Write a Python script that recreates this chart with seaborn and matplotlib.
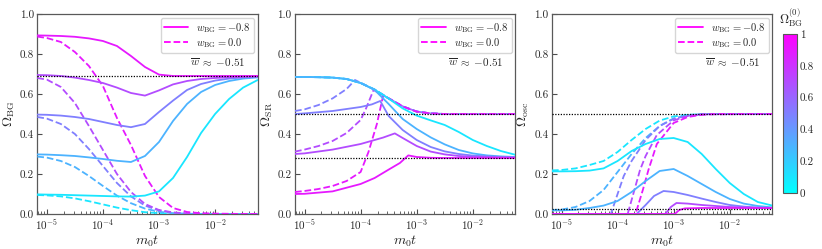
import numpy as np
import pandas as pd
import matplotlib
matplotlib.use("Agg")
import matplotlib.pyplot as plt
import seaborn as sns

# ---------------- data ----------------
OMEGA0 = [0.1, 0.3, 0.5, 0.7, 0.9]
LOGT = [-5.17, -5.0, -4.75, -4.5, -4.25, -4.0, -3.75, -3.5, -3.25, -3.0,
        -2.75, -2.5, -2.25, -2.0, -1.75, -1.5, -1.24]

# Panel 1: Omega_BG
BG_SOLID = {
    0.9: (LOGT, [0.893, 0.892, 0.890, 0.886, 0.878, 0.865, 0.84, 0.79, 0.735, 0.697, 0.69, 0.69, 0.69, 0.69, 0.69, 0.69, 0.69]),
    0.7: (LOGT, [0.695, 0.694, 0.69, 0.682, 0.67, 0.655, 0.632, 0.605, 0.592, 0.618, 0.648, 0.665, 0.675, 0.68, 0.684, 0.686, 0.688]),
    0.5: (LOGT, [0.497, 0.496, 0.492, 0.485, 0.475, 0.46, 0.445, 0.434, 0.45, 0.51, 0.567, 0.62, 0.65, 0.667, 0.677, 0.683, 0.686]),
    0.3: (LOGT, [0.298, 0.297, 0.294, 0.29, 0.283, 0.275, 0.266, 0.26, 0.29, 0.36, 0.465, 0.55, 0.61, 0.645, 0.665, 0.677, 0.683]),
    0.1: (LOGT, [0.098, 0.097, 0.096, 0.094, 0.092, 0.09, 0.088, 0.087, 0.092, 0.113, 0.18, 0.285, 0.405, 0.50, 0.575, 0.632, 0.67]),
}
BG_DASHED = {
    0.9: (LOGT, [0.887, 0.88, 0.86, 0.81, 0.74, 0.64, 0.48, 0.345, 0.19, 0.085, 0.03, 0.01, 0.004, 0.002, 0.001, 0.0, 0.0]),
    0.7: (LOGT, [0.68, 0.672, 0.635, 0.555, 0.44, 0.32, 0.2, 0.11, 0.05, 0.02, 0.008, 0.003, 0.001, 0.0, 0.0, 0.0, 0.0]),
    0.5: (LOGT, [0.485, 0.477, 0.45, 0.40, 0.325, 0.24, 0.155, 0.088, 0.042, 0.017, 0.006, 0.002, 0.001, 0.0, 0.0, 0.0, 0.0]),
    0.3: (LOGT, [0.287, 0.282, 0.265, 0.235, 0.19, 0.14, 0.092, 0.054, 0.027, 0.011, 0.004, 0.0015, 0.0, 0.0, 0.0, 0.0, 0.0]),
    0.1: (LOGT, [0.095, 0.093, 0.088, 0.078, 0.064, 0.048, 0.032, 0.019, 0.009, 0.004, 0.0015, 0.0005, 0.0, 0.0, 0.0, 0.0, 0.0]),
}
BG_REF = [0.69]

# Panel 2: Omega_SR
SR_SOLID = {
    0.1: (LOGT, [0.685, 0.685, 0.684, 0.682, 0.675, 0.655, 0.622, 0.577, 0.528, 0.492, 0.468, 0.445, 0.41, 0.37, 0.34, 0.315, 0.296]),
    0.3: (LOGT, [0.685, 0.685, 0.684, 0.682, 0.675, 0.655, 0.62, 0.55, 0.475, 0.425, 0.383, 0.348, 0.32, 0.303, 0.293, 0.288, 0.285]),
    0.5: ([-5.17, -5.0, -4.5, -4.0, -3.8, -3.65, -3.5, -3.25, -3.0, -2.75, -2.5, -2.25, -2.0, -1.5, -1.24],
          [0.5, 0.503, 0.515, 0.535, 0.548, 0.565, 0.49, 0.42, 0.37, 0.335, 0.313, 0.3, 0.292, 0.285, 0.283]),
    0.7: ([-5.17, -5.0, -4.5, -4.0, -3.6, -3.39, -3.25, -3.0, -2.75, -2.5, -2.25, -2.0, -1.5, -1.24],
          [0.3, 0.303, 0.322, 0.35, 0.382, 0.403, 0.38, 0.34, 0.312, 0.298, 0.29, 0.286, 0.283, 0.282]),
    0.9: ([-5.17, -5.0, -4.5, -4.0, -3.75, -3.5, -3.3, -3.15, -3.0, -2.75, -2.5, -2.0, -1.24],
          [0.1, 0.101, 0.113, 0.15, 0.18, 0.222, 0.255, 0.293, 0.285, 0.281, 0.28, 0.28, 0.28]),
}
SR_DASHED = {
    0.1: (LOGT, [0.685, 0.685, 0.684, 0.682, 0.675, 0.655, 0.622, 0.578, 0.538, 0.512, 0.503, 0.5, 0.5, 0.5, 0.5, 0.5, 0.5]),
    0.3: (LOGT, [0.685, 0.685, 0.684, 0.682, 0.675, 0.655, 0.622, 0.578, 0.538, 0.512, 0.503, 0.5, 0.5, 0.5, 0.5, 0.5, 0.5]),
    0.5: ([-5.17, -5.0, -4.75, -4.5, -4.25, -4.1, -4.0, -3.75, -3.5, -3.25, -3.0, -2.75, -2.5, -2.0, -1.24],
          [0.515, 0.523, 0.545, 0.578, 0.625, 0.67, 0.656, 0.622, 0.578, 0.538, 0.512, 0.503, 0.5, 0.5, 0.5]),
    0.7: ([-5.17, -5.0, -4.75, -4.5, -4.25, -4.0, -3.9, -3.77, -3.5, -3.25, -3.0, -2.75, -2.5, -2.0, -1.24],
          [0.312, 0.322, 0.34, 0.365, 0.405, 0.47, 0.53, 0.62, 0.578, 0.538, 0.512, 0.503, 0.5, 0.5, 0.5]),
    0.9: ([-5.17, -5.0, -4.75, -4.5, -4.25, -4.0, -3.86, -3.71, -3.6, -3.5, -3.25, -3.0, -2.75, -2.5, -2.0, -1.24],
          [0.11, 0.115, 0.125, 0.14, 0.165, 0.21, 0.31, 0.45, 0.59, 0.578, 0.538, 0.512, 0.503, 0.5, 0.5, 0.5]),
}
SR_REF = [0.5, 0.28]

# Panel 3: Omega_osc
OSC_SOLID = {
    0.1: (LOGT, [0.213, 0.213, 0.214, 0.217, 0.228, 0.265, 0.315, 0.35, 0.375, 0.38, 0.36, 0.30, 0.225, 0.155, 0.10, 0.06, 0.042]),
    0.3: (LOGT, [0.018, 0.018, 0.021, 0.03, 0.042, 0.065, 0.11, 0.165, 0.215, 0.225, 0.19, 0.15, 0.11, 0.075, 0.052, 0.04, 0.033]),
    0.5: ([-5.17, -3.66, -3.5, -3.35, -3.18, -3.0, -2.75, -2.5, -2.25, -2.0, -1.75, -1.5, -1.24],
          [0.0, 0.0, 0.045, 0.09, 0.115, 0.11, 0.095, 0.077, 0.06, 0.045, 0.037, 0.032, 0.03]),
    0.7: ([-5.17, -3.15, -3.05, -2.95, -2.75, -2.5, -2.0, -1.5, -1.24],
          [0.0, 0.0, 0.035, 0.055, 0.052, 0.045, 0.035, 0.031, 0.03]),
    0.9: ([-5.17, -2.98, -2.9, -2.8, -2.5, -1.24],
          [0.0, 0.0, 0.02, 0.028, 0.03, 0.03]),
}
OSC_DASHED = {
    0.1: (LOGT, [0.218, 0.22, 0.228, 0.245, 0.265, 0.31, 0.37, 0.425, 0.467, 0.488, 0.496, 0.499, 0.5, 0.5, 0.5, 0.5, 0.5]),
    0.3: (LOGT, [0.02, 0.022, 0.035, 0.065, 0.12, 0.21, 0.30, 0.38, 0.44, 0.478, 0.493, 0.499, 0.5, 0.5, 0.5, 0.5, 0.5]),
    0.5: ([-5.17, -4.12, -4.0, -3.89, -3.75, -3.5, -3.25, -3.0, -2.75, -2.5, -1.24],
          [0.0, 0.0, 0.1, 0.19, 0.265, 0.37, 0.44, 0.476, 0.492, 0.499, 0.5]),
    0.7: ([-5.17, -3.82, -3.7, -3.6, -3.5, -3.3, -3.0, -2.75, -2.5, -1.24],
          [0.0, 0.0, 0.12, 0.22, 0.29, 0.395, 0.468, 0.49, 0.498, 0.5]),
    0.9: ([-5.17, -3.68, -3.55, -3.45, -3.3, -3.0, -2.75, -2.5, -2.25, -1.24],
          [0.0, 0.0, 0.12, 0.22, 0.35, 0.455, 0.485, 0.496, 0.5, 0.5]),
}
OSC_REF = [0.5, 0.025]

YLABELS = [r'$\Omega_{\rm BG}$', r'$\Omega_{\rm SR}$', r'$\Omega_{\rm osc}$']
LEGEND_LABELS = [r'$w_{\rm BG}=-0.8$', r'$w_{\rm BG}=0.0$']
WBAR_TEXT = r'$\overline{w}\;\approx\;{-0.51}$'
CBAR_TICKS = [0, 0.2, 0.4, 0.6, 0.8, 1]
CBAR_TICKLABELS = ['0', '0.2', '0.4', '0.6', '0.8', '1']

# ---------------- style ----------------
sns.set_theme(style="ticks")
plt.rcParams.update({
    'font.family': ['serif'],
    'font.serif': ['cmr10', 'DejaVu Serif'],
    'mathtext.fontset': 'cm',
    'axes.formatter.use_mathtext': True,
    'axes.unicode_minus': True,
    'xtick.direction': 'in',
    'ytick.direction': 'in',
    'axes.edgecolor': '0.35',
    'axes.linewidth': 0.9,
})

cmap = plt.get_cmap('cool')

fig = plt.figure(figsize=(8.22, 2.49), dpi=100)
lefts = [0.0454, 0.3589, 0.6715]
axes = [fig.add_axes([l, 0.1406, 0.2681, 0.8032]) for l in lefts]

panels = [(BG_SOLID, BG_DASHED, BG_REF), (SR_SOLID, SR_DASHED, SR_REF), (OSC_SOLID, OSC_DASHED, OSC_REF)]
XLIM = (10 ** -5.17, 10 ** -1.24)
DASH = (0, (3.7, 1.6))

for ax, (solid, dashed, refs), ylab in zip(axes, panels, YLABELS):
    for r in refs:
        ax.axhline(r, color='black', ls=(0, (1, 1.2)), lw=0.9, zorder=5)
    for om in OMEGA0:
        c = cmap(om)
        lx, ly = dashed[om]
        sns.lineplot(x=10.0 ** np.array(lx), y=ly, ax=ax, color=c, lw=1.3,
                     linestyle=DASH, estimator=None, sort=False, zorder=3)
        lx, ly = solid[om]
        sns.lineplot(x=10.0 ** np.array(lx), y=ly, ax=ax, color=c, lw=1.3,
                     estimator=None, sort=False, zorder=4)
    ax.set_xscale('log')
    ax.set_xlim(*XLIM)
    ax.set_ylim(0, 1)
    ax.set_yticks([0, 0.2, 0.4, 0.6, 0.8, 1.0])
    ax.set_yticklabels(['0.0', '0.2', '0.4', '0.6', '0.8', '1.0'])
    ax.set_xticks([1e-5, 1e-4, 1e-3, 1e-2])
    ax.tick_params(axis='both', which='major', labelsize=8, length=3.5, width=0.8, color='0.3', pad=2.5)
    ax.tick_params(axis='x', which='minor', length=2, width=0.6, color='0.3')
    ax.set_ylabel(ylab, fontsize=10, labelpad=2)
    ax.set_xlabel(r'$m_0 t$', fontsize=10, labelpad=1)
    h1, = ax.plot([], [], color=cmap(1.0), lw=1.3)
    h2, = ax.plot([], [], color=cmap(1.0), lw=1.3, ls=DASH)
    ax.legend([h1, h2], LEGEND_LABELS, loc='upper right', fontsize=7.6,
              frameon=True, fancybox=True, framealpha=0.8, edgecolor='0.8',
              borderaxespad=0.35, borderpad=0.3, handlelength=2.3,
              labelspacing=0.12, handletextpad=0.8)
    ax.text(0.945, 0.76, WBAR_TEXT, transform=ax.transAxes, ha='right', va='center', fontsize=8)

cax = fig.add_axes([0.9526, 0.2249, 0.017, 0.6386])
sm = matplotlib.cm.ScalarMappable(norm=matplotlib.colors.Normalize(0, 1), cmap=cmap)
cb = fig.colorbar(sm, cax=cax)
cb.set_ticks(CBAR_TICKS)
cb.set_ticklabels(CBAR_TICKLABELS)
cb.ax.minorticks_on()
cb.ax.yaxis.set_minor_locator(matplotlib.ticker.MultipleLocator(0.1))
cb.ax.tick_params(which='major', direction='in', labelsize=8, length=3, width=0.7, pad=2)
cb.ax.tick_params(which='minor', direction='in', length=1.8, width=0.6)
cb.outline.set_edgecolor('0.35')
cb.outline.set_linewidth(0.8)
cb.ax.set_title(r'$\Omega_{\rm BG}^{(0)}$', fontsize=9, pad=7, x=0.6)

fig.savefig('out.png', dpi=100)
